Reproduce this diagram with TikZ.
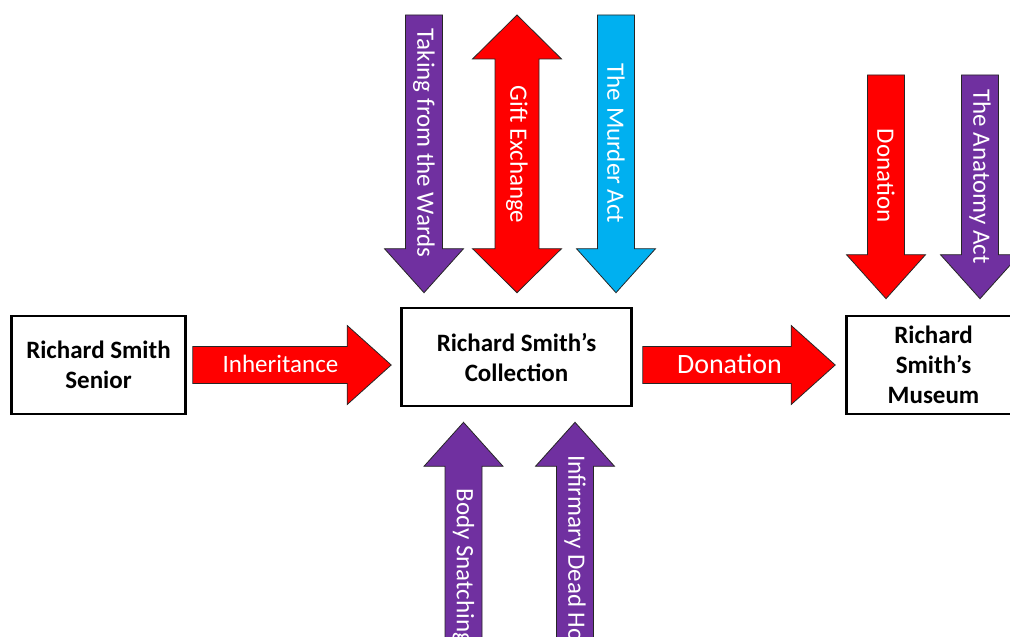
\documentclass[tikz,border=0pt]{standalone}
\usepackage{fontspec}
\setmainfont{Carlito}
\usetikzlibrary{calc, positioning}
\definecolor{bred}{HTML}{FF0000}
\definecolor{bpurple}{HTML}{7030A0}
\definecolor{bcyan}{HTML}{00B0F0}

\begin{document}
\begin{tikzpicture}[
    x=0.5pt, y=-0.5pt,
    shaftw/.code={\def\shafthw{#1}}, headw/.code={\def\headhw{#1}},
    shaftw=9.25pt, headw=19.75pt,
    box/.style={draw=black, line width=1.3pt, fill=white, align=center,
                minimum width=87pt, minimum height=49pt, inner sep=2pt,
                font=\fontsize{12.5}{15}\selectfont\bfseries},
    barrow/.style={draw=black!85, line width=0.4pt, fill=#1, to path={
        (\tikztostart) coordinate (s) (\tikztotarget) coordinate (t)
        ($(t)!22pt!(s)$) coordinate (h)
        ($(s)!\shafthw!90:(t)$) -- ($(h)!\shafthw!-90:(s)$) -- ($(h)!\headhw!-90:(s)$)
        -- (t) -- ($(h)!\headhw!90:(s)$) -- ($(h)!\shafthw!90:(s)$)
        -- ($(s)!\shafthw!-90:(t)$) -- cycle}},
    dbarrow/.style={draw=black!85, line width=0.4pt, fill=#1, to path={
        (\tikztostart) coordinate (s) (\tikztotarget) coordinate (t)
        ($(t)!22pt!(s)$) coordinate (h) ($(s)!22pt!(t)$) coordinate (k)
        (s) -- ($(k)!\headhw!90:(t)$) -- ($(k)!\shafthw!90:(t)$)
        -- ($(h)!\shafthw!-90:(s)$) -- ($(h)!\headhw!-90:(s)$)
        -- (t) -- ($(h)!\headhw!90:(s)$) -- ($(h)!\shafthw!90:(s)$)
        -- ($(k)!\shafthw!-90:(t)$) -- ($(k)!\headhw!-90:(t)$) -- cycle}},
    atext/.style={text=white, inner sep=0pt, font=\fontsize{12.5}{15}\selectfont},
    vtext/.style={atext, rotate=-90},
]
\useasboundingbox (0,0) rectangle (1010,636);
\clip (0,0) rectangle (1010,636);

% the three holders
\node[box] (senior) at (98.5,365) {Richard Smith\\Senior};
\node[box, minimum width=115pt] (coll) at (516.5,357) {Richard Smith’s\\Collection};
\node[box] (museum) at (933.5,365) {Richard\\Smith’s\\Museum};

% main row
\draw[barrow=bred] ([xshift=3pt]senior.east) to ([xshift=-4.5pt]senior.east -| coll.west);
\node[atext] (inh) at (280.5,364) {Inheritance};
\draw[barrow=bred] ([xshift=5pt]museum.west -| coll.east) to ([xshift=-5pt]museum.west);
\node[atext, font=\fontsize{14}{16}\selectfont] (don) at (729.5,364) {Donation};

% into the collection, from above
\coordinate (wtop) at (424,15);
\coordinate (gtop) at (517,15);
\coordinate (mtop) at (616,15);
\draw[barrow=bpurple] (wtop) to ([yshift=7pt]coll.north -| wtop);
\draw[dbarrow=bred, shaftw=11pt, headw=22.25pt] (gtop) to ([yshift=7pt]coll.north -| gtop);
\draw[barrow=bcyan] (mtop) to ([yshift=7pt]coll.north -| mtop);
\node[vtext] (wt) at (424,143) {Taking from the Wards};
\node[vtext] (gt) at (517,154.5) {Gift Exchange};
\node[vtext] (mt) at (616,143.5) {The Murder Act};

% into the collection, from below
\coordinate (bbot) at (463.5,700);
\coordinate (ibot) at (575,700);
\draw[barrow=bpurple] (bbot) to ([yshift=-7.5pt]coll.south -| bbot);
\draw[barrow=bpurple] (ibot) to ([yshift=-7.5pt]coll.south -| ibot);
\node[vtext, anchor=west] (bt) at (463.5,488) {Body Snatching};
\node[vtext, anchor=west] (it) at (575,455) {Infirmary Dead House};

% into the museum
\coordinate (dtop) at (886,75);
\coordinate (atop) at (980,75);
\draw[barrow=bred] (dtop) to ([yshift=8pt]museum.north -| dtop);
\draw[barrow=bpurple] (atop) to ([yshift=8pt]museum.north -| atop);
\node[vtext] (dt) at (886,175.5) {Donation};
\node[vtext] (at) at (980,176.5) {The Anatomy Act};

\end{tikzpicture}
\end{document}
